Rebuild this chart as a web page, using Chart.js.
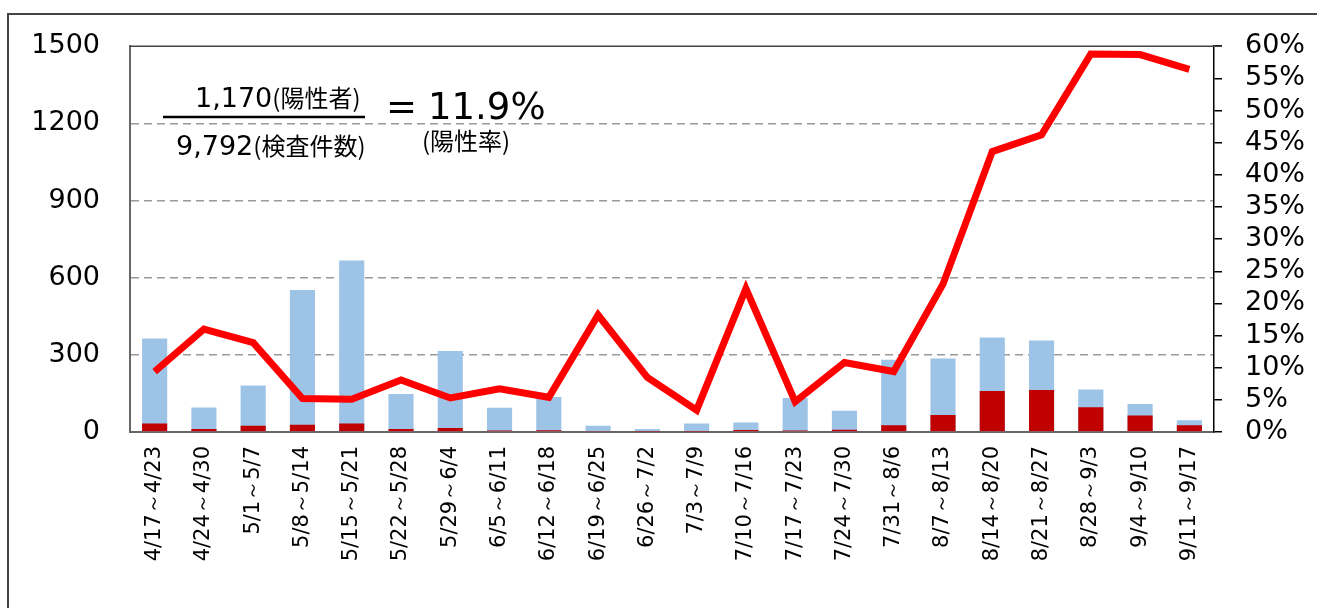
<!DOCTYPE html>
<html>
<head>
<meta charset="utf-8">
<script src="https://cdn.jsdelivr.net/npm/chart.js@4.4.1/dist/chart.umd.min.js"></script>
<style>
  html, body { margin: 0; padding: 0; background: #fff; overflow: hidden; }
  #wrap { position: relative; width: 1317px; height: 608px; }
  #frame { position: absolute; left: 7px; top: 13px; width: 1400px; height: 700px; border: 2px solid #444; box-sizing: border-box; }
  canvas { position: absolute; left: 0; top: 0; }
</style>
</head>
<body>
<div id="wrap">
  <div id="frame"></div>
  <canvas id="chart" width="1317" height="608"></canvas>
</div>
<script>
const weeks = [
  "4/17～4/23", "4/24～4/30", "5/1～5/7", "5/8～5/14", "5/15～5/21", "5/22～5/28",
  "5/29～6/4", "6/5～6/11", "6/12～6/18", "6/19～6/25", "6/26～7/2", "7/3～7/9",
  "7/10～7/16", "7/17～7/23", "7/24～7/30", "7/31～8/6", "8/7～8/13", "8/14～8/20",
  "8/21～8/27", "8/28～9/3", "9/4～9/10", "9/11～9/17"
];

// 検査件数 (light blue)
const tests = [364, 95, 181, 552, 667, 148, 315, 94, 136, 24, 12, 33, 37, 132, 83, 281, 286, 367, 356, 165, 109, 46];
// 陽性者 (dark red)
const positives = [33, 12, 24, 28, 33, 12, 16, 6, 7, 4, 1, 1, 8, 6, 9, 26, 66, 159, 163, 96, 64, 26];
// 陽性率 (%)
const rate = [9.4, 16.0, 13.9, 5.2, 5.1, 8.1, 5.3, 6.7, 5.4, 18.2, 8.5, 3.4, 22.3, 4.7, 10.8, 9.4, 23.0, 43.6, 46.2, 58.8, 58.7, 56.4];

const leftTicks = [0, 300, 600, 900, 1200, 1500];
const rightMax = 60;

const FONT = "'DejaVu Sans', Verdana, sans-serif";
const CJK = "'Noto Sans CJK JP', sans-serif";

// top border of plot area + the fraction text
const overlay = {
  id: "overlay",
  afterDraw(chart) {
    const { ctx, chartArea } = chart;
    ctx.save();
    ctx.strokeStyle = "#444";
    ctx.lineWidth = 1.5;
    ctx.beginPath();
    ctx.moveTo(chartArea.left, chartArea.top);
    ctx.lineTo(chartArea.right + 8, chartArea.top);
    ctx.stroke();

    ctx.fillStyle = "#000";
    ctx.textBaseline = "alphabetic";

    ctx.font = "27px " + FONT;
    ctx.fillText("1,170", 195, 107);
    let w = ctx.measureText("1,170").width;
    ctx.font = "24px " + CJK;
    ctx.fillText("(陽性者)", 195 + w, 107);

    ctx.lineWidth = 2.5;
    ctx.strokeStyle = "#000";
    ctx.beginPath();
    ctx.moveTo(163, 117);
    ctx.lineTo(365, 117);
    ctx.stroke();

    ctx.font = "27px " + FONT;
    ctx.fillText("9,792", 176, 155);
    w = ctx.measureText("9,792").width;
    ctx.font = "24px " + CJK;
    ctx.fillText("(検査件数)", 176 + w, 155);

    ctx.font = "37px " + FONT;
    ctx.fillText("=", 386, 119);
    ctx.fillText("11.9%", 428, 119);

    ctx.font = "24px " + CJK;
    ctx.fillText("(陽性率)", 422, 150);
    ctx.restore();
  }
};

new Chart(document.getElementById("chart"), {
  type: "bar",
  data: {
    labels: weeks,
    datasets: [
      {
        type: "line",
        label: "陽性率",
        data: rate,
        yAxisID: "y1",
        borderColor: "#FF0000",
        borderWidth: 7,
        pointRadius: 0,
        tension: 0,
        order: 0
      },
      {
        label: "陽性者",
        data: positives,
        yAxisID: "y",
        backgroundColor: "#C00000",
        grouped: false,
        barPercentage: 0.51,
        categoryPercentage: 1,
        order: 1
      },
      {
        label: "検査件数",
        data: tests,
        yAxisID: "y",
        backgroundColor: "#9DC3E6",
        grouped: false,
        barPercentage: 0.51,
        categoryPercentage: 1,
        order: 2
      }
    ]
  },
  options: {
    responsive: false,
    animation: false,
    layout: { padding: { top: 45, left: 0, right: 0, bottom: 0 } },
    plugins: { legend: { display: false }, tooltip: { enabled: false } },
    scales: {
      x: {
        grid: { display: false, drawTicks: false },
        border: { color: "#666", width: 2 },
        ticks: {
          minRotation: 90, maxRotation: 90, autoSkip: false, padding: 14,
          color: "#000", font: { family: FONT, size: 21 }
        },
        afterFit(s) { s.height = 176; }
      },
      y: {
        position: "left",
        min: leftTicks[0],
        max: leftTicks[leftTicks.length - 1],
        afterBuildTicks(s) { s.ticks = leftTicks.map(v => ({ value: v })); },
        ticks: {
          padding: 30, color: "#000", autoSkip: false,
          font: { family: FONT, size: 27 },
          callback: v => String(v)
        },
        grid: {
          drawTicks: false,
          lineWidth: 1.5,
          color: c => (c.tick && (c.tick.value === 0 || c.tick.value === 1500)) ? "rgba(0,0,0,0)" : "#999"
        },
        border: { color: "#666", width: 2, dash: [8, 5] },
        afterFit(s) { s.width = 130; }
      },
      y1: {
        position: "right",
        min: 0,
        max: rightMax,
        ticks: {
          stepSize: 5, padding: 23, color: "#000", autoSkip: false,
          font: { family: FONT, size: 27 },
          callback: v => v + "%"
        },
        grid: { drawOnChartArea: false, drawTicks: true, tickLength: 8, color: "#000", lineWidth: 1.5 },
        border: { color: "#000", width: 1.5 },
        afterFit(s) { s.width = 103; }
      }
    }
  },
  plugins: [overlay]
});
</script>
</body>
</html>
